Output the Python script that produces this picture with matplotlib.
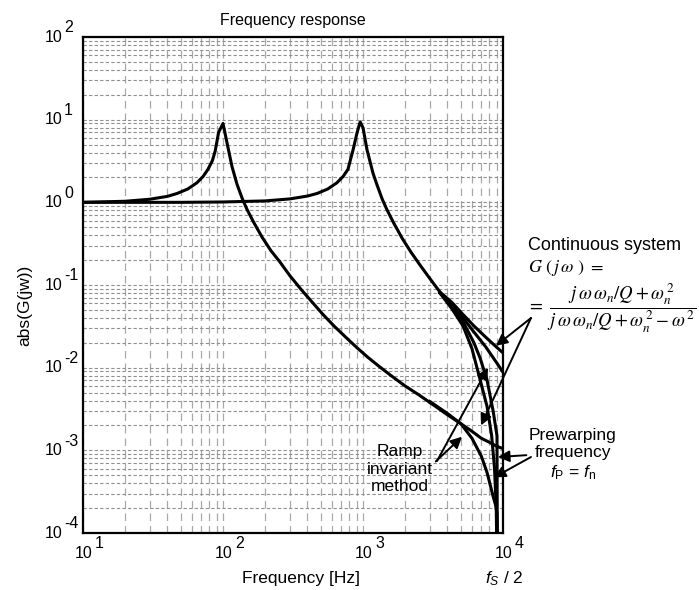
import numpy as np
import matplotlib
matplotlib.use("Agg")
import matplotlib.pyplot as plt

plt.rcParams['font.family'] = ['Liberation Sans', 'DejaVu Sans']
plt.rcParams['mathtext.fontset'] = 'custom'
plt.rcParams['mathtext.rm'] = 'Liberation Sans'
plt.rcParams['mathtext.it'] = 'Liberation Sans:italic'

# --- fn = 100 Hz group ---
f_lo = [10, 20, 30, 40, 47, 56, 65, 72, 78, 84, 88, 93, 100, 108, 116, 126, 137,
        148, 165, 190, 220, 255, 300, 360, 430, 518, 620, 750, 900, 1080, 1300,
        1637, 2000, 2500, 3000]
g_lo = [1.0, 1.03, 1.09, 1.18, 1.28, 1.45, 1.72, 2.05, 2.5, 3.2, 4.2, 7.0, 9.0,
        4.8, 2.7, 1.65, 1.12, 0.83, 0.58, 0.38, 0.26, 0.19, 0.13, 0.089, 0.063,
        0.044, 0.032, 0.0235, 0.0176, 0.0134, 0.0104, 0.0077, 0.006, 0.0047, 0.0038]
# tails near Nyquist
f_lo_cont = [3000, 4000, 5000, 6000, 7000, 8000, 9000, 10000]
g_lo_cont = [0.0038, 0.0027, 0.0021, 0.0017, 0.0014, 0.00125, 0.00112, 0.00105]
f_lo_pw = [3000, 4000, 5000, 6000, 7000, 7690, 8490, 8900, 9060, 9100]
g_lo_pw = [0.0039, 0.0028, 0.0021, 0.0014, 0.00085, 0.00054, 0.00028, 0.00021, 0.00017, 0.0001]

# --- fn = 1000 Hz group ---
f_hi = [10, 50, 100, 200, 300, 400, 470, 560, 650, 720, 780, 849, 906, 954, 1000,
        1069, 1178, 1260, 1370, 1480, 1650, 1900, 2200, 2550, 3000, 3548]
g_hi = [1.0, 1.0, 1.01, 1.04, 1.1, 1.19, 1.28, 1.45, 1.72, 2.05, 2.5, 4.3, 6.9,
        9.4, 8.0, 4.3, 2.26, 1.62, 1.1, 0.82, 0.57, 0.37, 0.25, 0.175, 0.12, 0.082]
f_hi_cont = [3548, 4300, 5180, 6200, 7500, 9000, 10000]
g_hi_cont = [0.082, 0.062, 0.044, 0.032, 0.0235, 0.0177, 0.0151]
f_hi_ramp = [3548, 4300, 5180, 6200, 7500, 9000, 10000]
g_hi_ramp = [0.08, 0.058, 0.04, 0.027, 0.018, 0.0115, 0.0088]
f_hi_pw1 = [3548, 4300, 5180, 6000, 6870, 7690, 8300, 8700, 8950, 9000]
g_hi_pw1 = [0.08, 0.052, 0.032, 0.017, 0.0071, 0.0034, 0.0015, 0.0006, 0.0002, 0.0001]
f_hi_pw2 = [3548, 4300, 5180, 6200, 6870, 7690, 8500, 9060, 9100]
g_hi_pw2 = [0.08, 0.055, 0.036, 0.02, 0.013, 0.0071, 0.003, 0.0015, 0.0001]

W, H = 699, 590
fig = plt.figure(figsize=(W / 100, H / 100), dpi=100)
ax = fig.add_axes([83 / W, 1 - 533 / H, 420 / W, 496 / H])


def px(x, y):
    return (x / W, 1 - y / H)


lw = 2.2
ax.plot(f_lo, g_lo, color='k', lw=lw)
ax.plot(f_lo_cont, g_lo_cont, color='k', lw=lw)
ax.plot(f_lo_pw, g_lo_pw, color='k', lw=lw)
ax.plot(f_hi, g_hi, color='k', lw=lw)
ax.plot(f_hi_cont, g_hi_cont, color='k', lw=lw)
ax.plot(f_hi_ramp, g_hi_ramp, color='k', lw=lw)
ax.plot(f_hi_pw1, g_hi_pw1, color='k', lw=lw)
ax.plot(f_hi_pw2, g_hi_pw2, color='k', lw=lw)

ax.set_xscale('log')
ax.set_yscale('log')
ax.set_xlim(10, 1e4)
ax.set_ylim(1e-4, 1e2)

ax.grid(axis='x', which='both', color='#a8a8a8', ls=(0, (6, 4)), lw=0.9)
ax.grid(axis='y', which='both', color='#909090', ls=(0, (3, 2)), lw=0.8)
ax.tick_params(which='both', length=0, labelleft=False, labelbottom=False)
for s in ax.spines.values():
    s.set_linewidth(1.6)

# tick labels drawn as "10" + exponent
for e in range(-4, 3):
    ax.annotate('10', xy=(0, 10.0 ** e), xycoords=('axes fraction', 'data'),
                xytext=(-21, 0), textcoords='offset pixels', ha='right', va='center',
                fontsize=11.5)
    ax.annotate(str(e), xy=(0, 10.0 ** e), xycoords=('axes fraction', 'data'),
                xytext=(-19, 9), textcoords='offset pixels', ha='left', va='center',
                fontsize=11.5)
for e in range(1, 5):
    ax.annotate('10', xy=(10.0 ** e, 0), xycoords=('data', 'axes fraction'),
                xytext=(1, -21), textcoords='offset pixels', ha='center', va='center',
                fontsize=11.5)
    ax.annotate(str(e), xy=(10.0 ** e, 0), xycoords=('data', 'axes fraction'),
                xytext=(12, -11), textcoords='offset pixels', ha='left', va='center',
                fontsize=11.5)

ax.set_title('Frequency response', fontsize=11.5, pad=9)
fig.text(*px(25, 305), 'abs(G(jw))', rotation=90, ha='center', va='center', fontsize=12.5)
fig.text(*px(301, 579), 'Frequency [Hz]', ha='center', va='center', fontsize=12.5)
fig.text(*px(504, 579), r'$f_S$ / 2', ha='center', va='center', fontsize=12.5)

# annotations
fs_ann = 12.5
fig.text(*px(528, 245), 'Continuous system', ha='left', va='center', fontsize=13)
fig.text(*px(528, 268), r'$G\ (\,j\,\omega\ )\ =$', ha='left', va='center',
         fontsize=13, math_fontfamily='stix')
fig.text(*px(527, 308),
         r'$=\ \dfrac{j\,\omega\,\omega_n / Q + \omega_n^{\,2}}{j\,\omega\,\omega_n / Q + \omega_n^{\,2} - \omega^{\,2}}$',
         ha='left', va='center', fontsize=13.5, math_fontfamily='stix')

aprops = dict(arrowstyle='-|>', color='k', lw=1.4, mutation_scale=17,
              shrinkA=0, shrinkB=0)
ax.annotate('', xy=(8900, 0.0184), xytext=px(531, 318), textcoords='figure fraction',
            arrowprops=aprops)
ax.annotate('', xy=(6966, 0.0020), xytext=px(531, 318), textcoords='figure fraction',
            arrowprops=aprops)

ax.annotate('Ramp\ninvariant\nmethod', xy=(5096, 0.00146), xytext=px(400, 469),
            textcoords='figure fraction', ha='center', va='center', fontsize=fs_ann,
            linespacing=1.2, arrowprops=dict(aprops, relpos=(1.0, 0.6)))
ax.annotate('', xy=(7816, 0.0100), xytext=px(437, 461), textcoords='figure fraction',
            arrowprops=aprops)

ax.annotate('Prewarping\nfrequency\n' + r'$f_{\mathrm{P}}$ = $f_{\mathrm{n}}$',
            xy=(9205, 0.00083), xytext=px(573, 455), textcoords='figure fraction',
            ha='center', va='center', fontsize=fs_ann, linespacing=1.2,
            arrowprops=dict(aprops, relpos=(0.0, 0.5)))
ax.annotate('', xy=(8630, 0.00047), xytext=px(531, 457), textcoords='figure fraction',
            arrowprops=aprops)

fig.savefig('out.png', dpi=100)
